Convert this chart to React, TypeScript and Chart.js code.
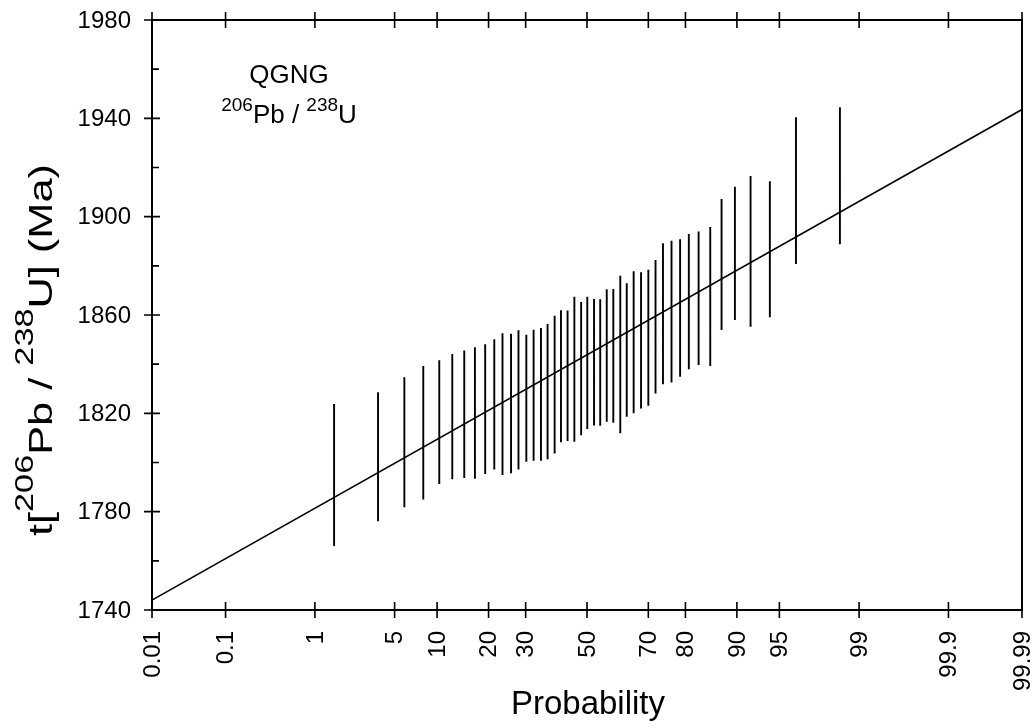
import React, { useEffect, useRef } from "react";
import { Chart, registerables } from "chart.js";

Chart.register(...registerables);

// ---- data ----
const probabilityPct = [
  1.53, 3.7, 5.92, 8.08, 10.33, 12.47, 14.7, 16.9, 19.2, 21.4, 23.5, 25.8, 27.9,
  30.2, 32.4, 34.7, 36.8, 39.1, 41.2, 43.4, 45.7, 48.0, 50.1, 52.4, 54.5, 56.7,
  58.9, 61.2, 63.3, 65.5, 67.8, 70.0, 72.1, 74.2, 76.5, 78.7, 80.8, 83.0, 85.4,
  87.5, 89.7, 91.9, 94.1, 96.3, 98.47,
];
const ageLow = [
  1766.0, 1776.1, 1781.8, 1785.0, 1791.3, 1793.2, 1793.7, 1793.4, 1795.3, 1797.2,
  1794.9, 1795.6, 1797.2, 1800.3, 1800.7, 1800.7, 1801.3, 1803.7, 1808.2, 1808.7,
  1808.4, 1811.1, 1813.6, 1815.1, 1815.0, 1816.6, 1816.2, 1811.9, 1818.6, 1820.0,
  1822.0, 1823.1, 1828.1, 1831.8, 1832.5, 1834.9, 1837.9, 1839.7, 1839.3, 1853.9,
  1858.0, 1855.2, 1859.1, 1880.7, 1888.8,
];
const ageHigh = [
  1823.8, 1828.6, 1834.7, 1839.3, 1841.6, 1844.1, 1845.6, 1846.9, 1848.1, 1850.1,
  1852.6, 1852.4, 1853.8, 1852.0, 1854.0, 1854.7, 1856.3, 1859.7, 1861.9, 1861.8,
  1867.4, 1865.3, 1867.4, 1866.5, 1866.4, 1870.5, 1870.6, 1876.0, 1872.9, 1877.8,
  1877.4, 1878.4, 1882.4, 1889.2, 1890.2, 1890.8, 1892.9, 1894.0, 1895.8, 1907.2,
  1912.2, 1916.5, 1914.4, 1940.4, 1944.5,
];
const fitProbPct = [0.01, 99.99];
const fitAge = [1744.0, 1943.6];

const xTickProbPct = [0.01, 0.1, 1, 5, 10, 20, 30, 50, 70, 80, 90, 95, 99, 99.9, 99.99];
const xTickLabels = ["0.01", "0.1", "1", "5", "10", "20", "30", "50", "70", "80", "90", "95", "99", "99.9", "99.99"];
const yMajorTicks = [1740, 1780, 1820, 1860, 1900, 1940, 1980];
const yMinorTicks = [1760, 1800, 1840, 1880, 1920, 1960];
const yTickLabels = ["1740", "1780", "1820", "1860", "1900", "1940", "1980"];

const FONT = '"Liberation Sans", Arial, Helvetica, sans-serif';

// inverse standard normal CDF (Acklam)
function probit(p: number): number {
  const a = [-3.969683028665376e1, 2.209460984245205e2, -2.759285104469687e2, 1.38357751867269e2, -3.066479806614716e1, 2.506628277459239];
  const b = [-5.447609879822406e1, 1.615858368580409e2, -1.556989798598866e2, 6.680131188771972e1, -1.328068155288572e1];
  const c = [-7.784894002430293e-3, -3.223964580411365e-1, -2.400758277161838, -2.549732539343734, 4.374664141464968, 2.938163982698783];
  const d = [7.784695709041462e-3, 3.224671290700398e-1, 2.445134137142996, 3.754408661907416];
  const pl = 0.02425;
  let q: number, r: number;
  if (p < pl) {
    q = Math.sqrt(-2 * Math.log(p));
    return (((((c[0] * q + c[1]) * q + c[2]) * q + c[3]) * q + c[4]) * q + c[5]) / ((((d[0] * q + d[1]) * q + d[2]) * q + d[3]) * q + 1);
  }
  if (p <= 1 - pl) {
    q = p - 0.5;
    r = q * q;
    return ((((((a[0] * r + a[1]) * r + a[2]) * r + a[3]) * r + a[4]) * r + a[5]) * q) / (((((b[0] * r + b[1]) * r + b[2]) * r + b[3]) * r + b[4]) * r + 1);
  }
  q = Math.sqrt(-2 * Math.log(1 - p));
  return -(((((c[0] * q + c[1]) * q + c[2]) * q + c[3]) * q + c[4]) * q + c[5]) / ((((d[0] * q + d[1]) * q + d[2]) * q + d[3]) * q + 1);
}

type Part = { t: string; sup: boolean };

function drawParts(ctx: CanvasRenderingContext2D, parts: Part[], mainPx: number, supPx: number, raise: number, startX: number) {
  let cx = startX;
  for (const p of parts) {
    ctx.font = `${p.sup ? supPx : mainPx}px ${FONT}`;
    ctx.fillText(p.t, cx, p.sup ? -raise : 0);
    cx += ctx.measureText(p.t).width;
  }
}
function measureParts(ctx: CanvasRenderingContext2D, parts: Part[], mainPx: number, supPx: number) {
  let w = 0;
  for (const p of parts) {
    ctx.font = `${p.sup ? supPx : mainPx}px ${FONT}`;
    w += ctx.measureText(p.t).width;
  }
  return w;
}

const axesPlugin = {
  id: "probAxes",
  afterDraw(chart: any) {
    const { ctx, chartArea, scales } = chart;
    const { left, right, top, bottom } = chartArea;
    const xs = scales.x;
    const ys = scales.y;
    ctx.save();
    ctx.strokeStyle = "#000";
    ctx.fillStyle = "#000";
    ctx.lineWidth = 2;
    ctx.strokeRect(left, top, right - left, bottom - top);

    ctx.lineWidth = 1.6;
    ctx.beginPath();
    xTickProbPct.forEach((p) => {
      const px = xs.getPixelForValue(probit(p / 100));
      ctx.moveTo(px, bottom - 8);
      ctx.lineTo(px, bottom + 8);
      ctx.moveTo(px, top - 8);
      ctx.lineTo(px, top + 8);
    });
    yMajorTicks.forEach((v) => {
      const py = ys.getPixelForValue(v);
      ctx.moveTo(left - 8, py);
      ctx.lineTo(left + 8, py);
    });
    yMinorTicks.forEach((v) => {
      const py = ys.getPixelForValue(v);
      ctx.moveTo(left, py);
      ctx.lineTo(left + 7, py);
    });
    ctx.stroke();

    // y tick labels
    ctx.font = `24px ${FONT}`;
    ctx.textAlign = "right";
    ctx.textBaseline = "middle";
    yMajorTicks.forEach((v, i) => {
      ctx.fillText(yTickLabels[i], left - 21, ys.getPixelForValue(v) + 1);
    });

    // x tick labels (rotated)
    xTickProbPct.forEach((p, i) => {
      const px = xs.getPixelForValue(probit(p / 100));
      ctx.save();
      ctx.translate(px + 1, bottom + 21);
      ctx.rotate(-Math.PI / 2);
      ctx.textAlign = "right";
      ctx.textBaseline = "middle";
      ctx.fillText(xTickLabels[i], 0, 0);
      ctx.restore();
    });

    // x title
    ctx.font = `33px ${FONT}`;
    ctx.textAlign = "center";
    ctx.textBaseline = "alphabetic";
    ctx.fillText("Probability", (left + right) / 2 + 1, 714);

    // y title (rotated, with superscripts)
    const yParts: Part[] = [
      { t: "t[", sup: false },
      { t: "206", sup: true },
      { t: "Pb / ", sup: false },
      { t: "238", sup: true },
      { t: "U] (Ma)", sup: false },
    ];
    ctx.textAlign = "left";
    const w = measureParts(ctx, yParts, 33, 26);
    const s = 372 / w;
    ctx.save();
    ctx.translate(52, 350);
    ctx.rotate(-Math.PI / 2);
    ctx.scale(s, 1);
    drawParts(ctx, yParts, 33, 26, 19, -w / 2);
    ctx.restore();

    // annotation
    ctx.font = `26px ${FONT}`;
    ctx.textAlign = "center";
    ctx.fillText("QGNG", 289, 83);
    const aParts: Part[] = [
      { t: "206", sup: true },
      { t: "Pb / ", sup: false },
      { t: "238", sup: true },
      { t: "U", sup: false },
    ];
    ctx.textAlign = "left";
    const aw = measureParts(ctx, aParts, 26, 19);
    ctx.save();
    ctx.translate(289, 123);
    drawParts(ctx, aParts, 26, 19, 12, -aw / 2);
    ctx.restore();

    ctx.restore();
  },
};

export default function App() {
  const ref = useRef<HTMLCanvasElement>(null);

  useEffect(() => {
    document.body.style.margin = "0";
    const canvas = ref.current;
    if (!canvas) return;

    const barData: any[] = [];
    probabilityPct.forEach((p, i) => {
      const x = probit(p / 100);
      barData.push({ x, y: ageLow[i] }, { x, y: ageHigh[i] }, { x, y: null });
    });
    const fitData = fitProbPct.map((p, i) => ({ x: probit(p / 100), y: fitAge[i] }));

    const chart = new Chart(canvas, {
      type: "scatter",
      data: {
        datasets: [
          {
            label: "fit",
            data: fitData,
            showLine: true,
            borderColor: "#000",
            borderWidth: 1.6,
            pointRadius: 0,
          },
          {
            label: "errors",
            data: barData,
            showLine: true,
            spanGaps: false,
            borderColor: "#000",
            borderWidth: 1.9,
            pointRadius: 0,
          },
        ],
      },
      options: {
        animation: false,
        responsive: false,
        devicePixelRatio: 1,
        layout: { padding: { left: 152, right: 13, top: 20, bottom: 117 } },
        plugins: { legend: { display: false }, tooltip: { enabled: false } },
        scales: {
          x: { type: "linear", display: false, min: probit(0.0001), max: probit(0.9999) },
          y: { type: "linear", display: false, min: 1740, max: 1980 },
        },
      },
      plugins: [axesPlugin],
    });
    return () => chart.destroy();
  }, []);

  return (
    <div style={{ position: "fixed", left: 0, top: 0, width: 1035, height: 727, background: "#fff" }}>
      <canvas ref={ref} width={1035} height={727} style={{ width: 1035, height: 727, display: "block" }} />
    </div>
  );
}
